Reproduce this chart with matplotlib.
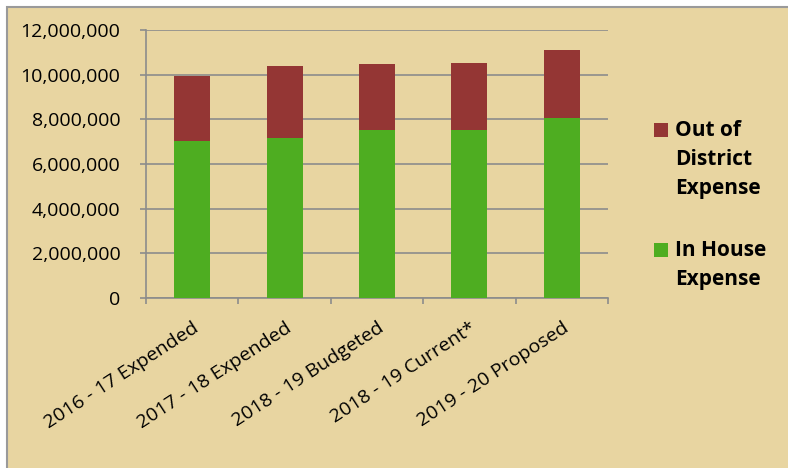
import matplotlib.pyplot as plt
from matplotlib.patches import Rectangle
from matplotlib.ticker import FuncFormatter, FixedLocator

plt.rcParams['font.family'] = ['Open Sans', 'DejaVu Sans']

categories = ["2016 - 17 Expended", "2017 - 18 Expended", "2018 - 19 Budgeted",
              "2018 - 19 Current*", "2019 - 20 Proposed"]
in_house = [7020000, 7160000, 7520000, 7520000, 8050000]
out_of_district = [2920000, 3230000, 2940000, 3020000, 3070000]

green = '#4EAD21'
red = '#943634'
grid_gray = '#8C8C8C'
paper = '#E8D5A1'

W, H = 788, 468
fig = plt.figure(figsize=(W / 100, H / 100), dpi=100, facecolor='white')


def px(x, y):
    # pixel position (from top-left) -> figure fraction
    return x / W, 1 - y / H


# textured chart area approximated by a flat papyrus colour
fig.patches.append(Rectangle(px(7, 475), (W + 5) / W, 468 / H, transform=fig.transFigure,
                             facecolor=paper, edgecolor='#9A9A9A', linewidth=1.5, zorder=-10))

left, top = px(146, 30)
right, bottom = px(608, 298)
ax = fig.add_axes([left, bottom, right - left, top - bottom])
ax.set_facecolor('none')

x = list(range(len(categories)))
ax.bar(x, in_house, width=0.39, color=green, zorder=3, label='In House\nExpense')
ax.bar(x, out_of_district, width=0.39, bottom=in_house, color=red, zorder=3,
       label='Out of\nDistrict\nExpense')

ax.set_xlim(-0.5, 4.5)
ax.set_ylim(0, 12000000)
ax.set_yticks(range(0, 12000001, 2000000))
ax.yaxis.set_major_formatter(FuncFormatter(lambda v, p: f'{int(v):,}'))
ax.grid(axis='y', color=grid_gray, linewidth=1.2, zorder=1)

ax.set_xticks(x)
ax.set_xticklabels(categories, rotation=33, ha='right', va='top', rotation_mode='anchor')
ax.xaxis.set_minor_locator(FixedLocator([i - 0.5 for i in range(len(categories) + 1)]))
ax.tick_params(axis='x', which='major', length=0, pad=15, labelsize=14)
ax.tick_params(axis='x', which='minor', length=4.5, width=1.2, color=grid_gray)
ax.tick_params(axis='y', length=4.5, width=1.2, color=grid_gray, labelsize=14, pad=14)

for side in ['top', 'right']:
    ax.spines[side].set_visible(False)
for side in ['left', 'bottom']:
    ax.spines[side].set_color(grid_gray)
    ax.spines[side].set_linewidth(1.2)

# legend drawn by hand to mimic Excel layout
legend_items = [(red, 'Out of\nDistrict\nExpense', 123), (green, 'In House\nExpense', 243)]
for color, label, ytop in legend_items:
    fig.patches.append(Rectangle(px(654, ytop + 14), 14 / W, 14 / H, transform=fig.transFigure,
                                 facecolor=color, edgecolor='none', zorder=2))
    tx, ty = px(675, ytop - 3)
    fig.text(tx, ty, label, fontsize=15, fontweight='bold', va='top', ha='left',
             linespacing=1.5, color='black')

fig.savefig('out.png', dpi=100, facecolor='white')
